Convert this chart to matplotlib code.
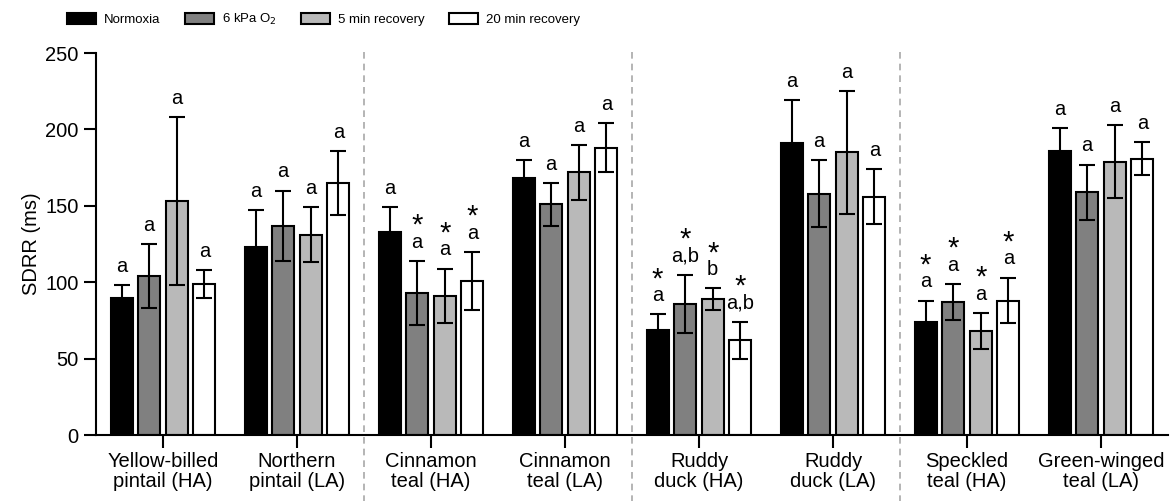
import matplotlib.pyplot as plt
import numpy as np

plt.rcParams['font.family'] = ['Liberation Sans', 'DejaVu Sans']
plt.rcParams['mathtext.fontset'] = 'custom'
plt.rcParams['mathtext.rm'] = 'Liberation Sans Narrow'
plt.rcParams['mathtext.it'] = 'Liberation Sans Narrow'

species = ["Yellow-billed\npintail (HA)", "Northern\npintail (LA)", "Cinnamon\nteal (HA)",
           "Cinnamon\nteal (LA)", "Ruddy\nduck (HA)", "Ruddy\nduck (LA)",
           "Speckled\nteal (HA)", "Green-winged\nteal (LA)"]
conditions = ["Normoxia", "6 kPa O$_2$", "5 min recovery", "20 min recovery"]
colors = ["black", "#808080", "#b9b9b9", "white"]

normoxia = [90, 123, 133, 168, 69, 191, 74, 186]
hypoxia = [104, 137, 93, 151, 86, 158, 87, 159]
rec5 = [153, 131, 91, 172, 89, 185, 68, 179]
rec20 = [99, 165, 101, 188, 62, 156, 88, 181]

normoxia_err = [8, 24, 16, 12, 10, 28, 14, 15]
hypoxia_err = [21, 23, 21, 14, 19, 22, 12, 18]
rec5_err = [55, 18, 18, 18, 7, 40, 12, 24]
rec20_err = [9, 21, 19, 16, 12, 18, 15, 11]

letters = [["a"] * 8,
           ["a", "a", "a", "a", "a,b", "a", "a", "a"],
           ["a", "a", "a", "a", "b", "a", "a", "a"],
           ["a", "a", "a", "a", "a,b", "a", "a", "a"]]
stars = [[0, 0, 0, 0, 1, 0, 1, 0],
         [0, 0, 1, 0, 1, 0, 1, 0],
         [0, 0, 1, 0, 1, 0, 1, 0],
         [0, 0, 1, 0, 1, 0, 1, 0]]

means = [normoxia, hypoxia, rec5, rec20]
errs = [normoxia_err, hypoxia_err, rec5_err, rec20_err]

fig = plt.figure(figsize=(11.72, 5.01), dpi=100)
ax = fig.add_axes([0.0819, 0.1317, 0.9147, 0.7623])

x = np.arange(len(species))
pitch = 0.206
width = 0.164
for i in range(4):
    xi = x + (i - 1.5) * pitch
    ax.bar(xi, means[i], width, color=colors[i], edgecolor="black", linewidth=1.5,
           label=conditions[i], zorder=2)
    ax.errorbar(xi, means[i], yerr=errs[i], fmt="none", ecolor="black",
                elinewidth=1.5, capsize=6, capthick=1.5, zorder=3)
    for j in range(len(species)):
        top = means[i][j] + errs[i][j]
        ax.annotate(letters[i][j], (xi[j], top), xytext=(0, 9.5), textcoords="offset points",
                    ha="center", va="baseline", fontsize=14.5)
        if stars[i][j]:
            ax.annotate("*", (xi[j], top), xytext=(0, 19.5), textcoords="offset points",
                        ha="center", va="baseline", fontsize=21)

for sx in [1.5, 3.5, 5.5]:
    ax.plot([sx, sx], [-0.175, 1.015], transform=ax.get_xaxis_transform(),
            color="#a8a8a8", linestyle=(0, (4, 3)), linewidth=1.2, clip_on=False)

ax.set_xlim(-0.5, 7.5)
ax.set_ylim(0, 250)
ax.set_yticks([0, 50, 100, 150, 200, 250])
ax.set_xticks(x)
ax.set_xticklabels(species, fontsize=14.5, linespacing=1.1)
ax.tick_params(axis="y", labelsize=14.5, length=9, width=1.5)
ax.tick_params(axis="x", length=9, width=1.5, pad=3)
ax.set_ylabel("SDRR (ms)", fontsize=14.5, labelpad=3)
for s in ["top", "right"]:
    ax.spines[s].set_visible(False)
for s in ["left", "bottom"]:
    ax.spines[s].set_linewidth(1.5)

fig.legend(loc="upper left", bbox_to_anchor=(0.047, 1.0), ncol=4, frameon=False,
           prop={"family": ["Liberation Sans Narrow", "Liberation Sans"], "size": 9.5},
           handlelength=2.2, handleheight=0.95, columnspacing=1.85,
           handletextpad=0.6)

fig.savefig("out.png", dpi=100)
